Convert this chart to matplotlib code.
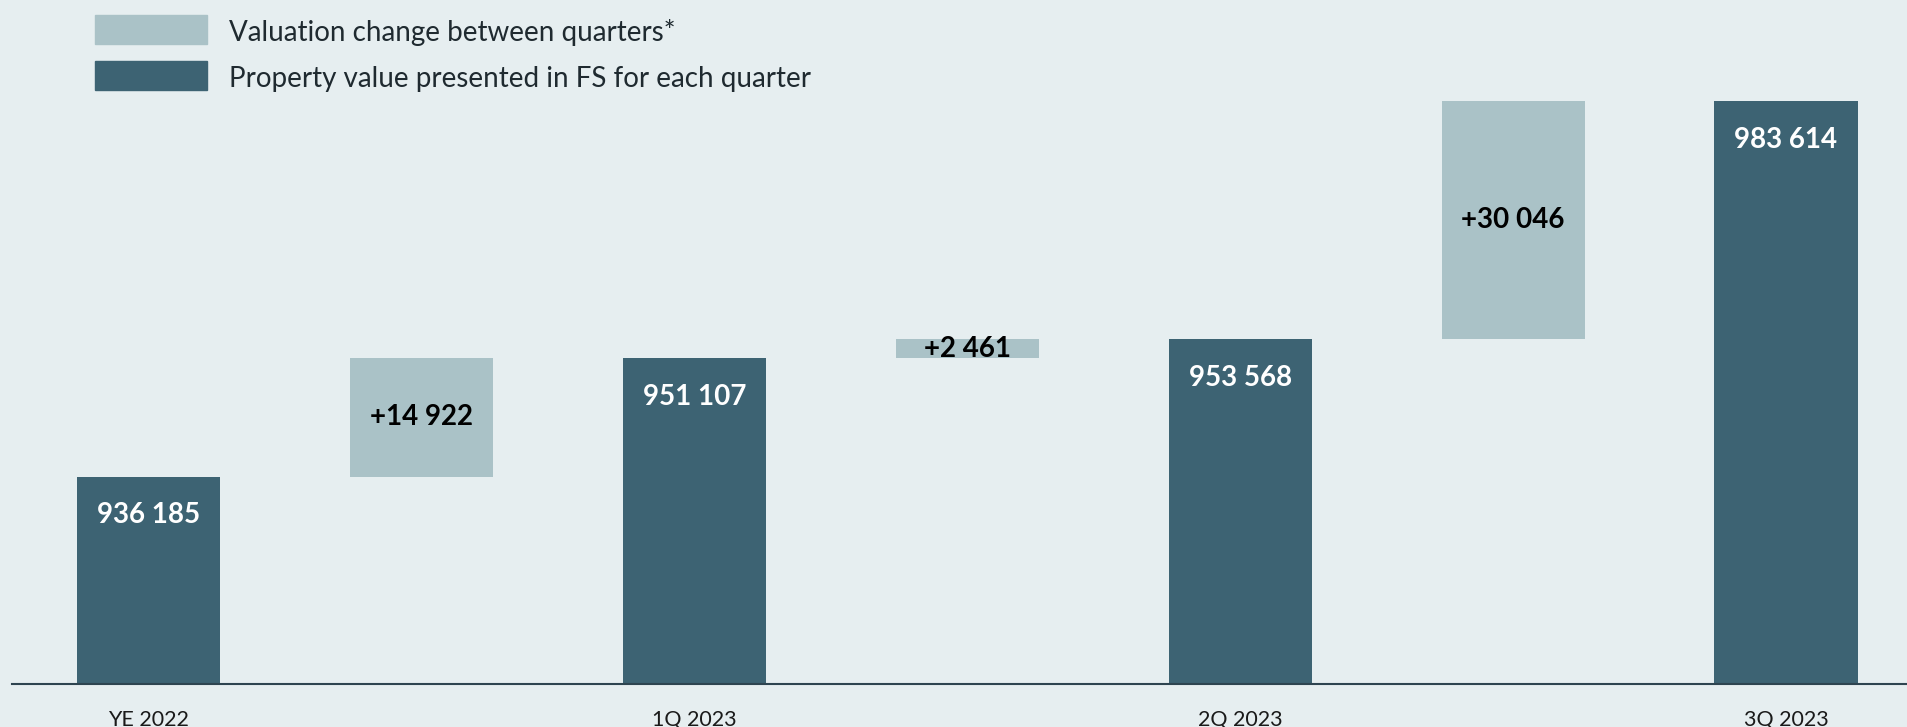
import matplotlib
matplotlib.use("Agg")
import matplotlib.pyplot as plt
from matplotlib.patches import Rectangle

# data
periods = ["YE 2022", "1Q 2023", "2Q 2023", "3Q 2023"]
property_values = [936185, 951107, 953568, 983614]
changes = [14922, 2461, 30046]

dark = "#3d6373"
light = "#aac2c7"
bg = "#e6eef0"

plt.rcParams['font.family'] = ['Lato', 'DejaVu Sans']

fig = plt.figure(figsize=(19.08, 7.27), dpi=100, facecolor=bg)
ax = fig.add_axes([12 / 1908, 43 / 727, 1 - 12 / 1908, 1 - 43 / 727])
ax.set_facecolor(bg)

w = 0.524
dark_x = [0, 2, 4, 6]
change_x = [1, 3, 5]

ax.bar(dark_x, property_values, width=w, color=dark, zorder=2)
ax.bar(change_x, changes, bottom=property_values[:-1], width=w, color=light, zorder=2)

for x, v in zip(dark_x, property_values):
    ax.annotate(f"{v:,}".replace(",", " "), (x, v), xytext=(0, -28), textcoords="offset points",
                ha="center", va="center", color="white", fontsize=20, fontweight="bold")

for x, c, b in zip(change_x, changes, property_values[:-1]):
    ax.text(x, b + c / 2, "+" + f"{c:,}".replace(",", " "), ha="center", va="center",
            color="black", fontsize=20, fontweight="bold")

ax.set_ylim(910000, 996350)
ax.set_xlim(-0.5, 6.447)
ax.set_xticks(dark_x)
ax.set_xticklabels(periods, fontsize=15.5, color="#1a1a1a")
ax.tick_params(axis="x", length=0, pad=19)
ax.set_yticks([])
for s in ["top", "right", "left"]:
    ax.spines[s].set_visible(False)
ax.spines["bottom"].set_color("#2e4450")
ax.spines["bottom"].set_linewidth(1.5)

# legend drawn by hand
W, H = 1908, 727
legend_items = [(light, "Valuation change between quarters*", 15),
                (dark, "Property value presented in FS for each quarter", 61)]
for col, label, top in legend_items:
    fig.add_artist(Rectangle((95 / W, 1 - (top + 29) / H), 112 / W, 29 / H,
                             transform=fig.transFigure, color=col))
    fig.text(229 / W, 1 - (top + 18) / H, label, fontsize=20, color="#1f2a30",
             ha="left", va="center")

fig.savefig("out.png", dpi=100, facecolor=bg)
